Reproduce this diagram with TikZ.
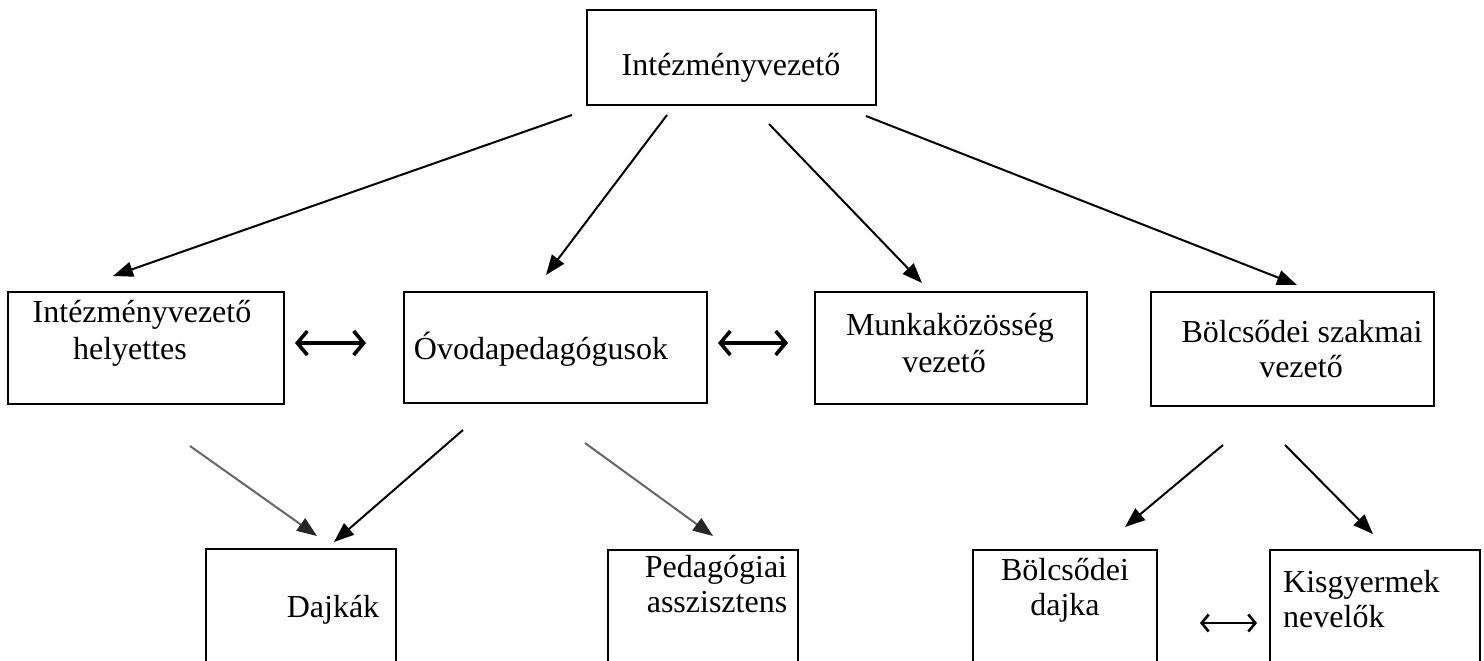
\documentclass[tikz,border=0pt]{standalone}
\usepackage{fontspec}
\setmainfont{Liberation Serif}
\usetikzlibrary{arrows.meta}
\tikzset{
  orgbox/.style={draw=black, line width=2.6pt, fill=none, inner sep=0pt},
  lbl/.style={inner sep=0pt, anchor=base, font=\fontsize{32}{36}\selectfont},
  lbll/.style={lbl, anchor=base west},
  arr/.style={line width=2pt, -{Triangle[length=20pt,width=15pt]}},
  garr/.style={line width=2pt, draw=black!60, -{Triangle[length=20pt,width=15pt,color=black!85,fill=black!85]}},
  dbl/.style={line width=3.6pt, {Straight Barb[length=10pt,width=24pt]}-{Straight Barb[length=10pt,width=24pt]}},
  dbls/.style={line width=2.6pt, {Straight Barb[length=7pt,width=17pt]}-{Straight Barb[length=7pt,width=17pt]}}
}
\begin{document}
\begin{tikzpicture}[x=1pt,y=-1pt]
\useasboundingbox (0,0) rectangle (1484,661);
\clip (0,0) rectangle (1484,661);
% boxes
\node[orgbox, minimum width=289pt, minimum height=95pt] (top) at (731.5,57.5) {};
\node[orgbox, minimum width=276pt, minimum height=112pt] (hely) at (146,348) {};
\node[orgbox, minimum width=303pt, minimum height=111pt] (ovo) at (555.5,347.5) {};
\node[orgbox, minimum width=272pt, minimum height=112pt] (munka) at (951,348) {};
\node[orgbox, minimum width=283pt, minimum height=114pt] (bszv) at (1292.5,349) {};
\node[orgbox, minimum width=190pt, minimum height=130pt] (dajk) at (301,614) {};
\node[orgbox, minimum width=190pt, minimum height=130pt] (ped) at (703,615) {};
\node[orgbox, minimum width=184pt, minimum height=130pt] (bdajka) at (1065,615) {};
\node[orgbox, minimum width=210pt, minimum height=130pt] (kisgy) at (1375,615) {};
% labels
\node[lbl] (ttop) at (731,76) {Intézményvezető};
\node[lbl] (thely1) at (142,322) {Intézményvezető};
\node[lbl] (thely2) at (130,359) {helyettes};
\node[lbl] (tovo) at (541,359) {Óvodapedagógusok};
\node[lbl] (tmun1) at (950,335) {Munkaközösség};
\node[lbl] (tmun2) at (944,372) {vezető};
\node[lbl] (tbsz1) at (1302,342) {Bölcsődei szakmai};
\node[lbl] (tbsz2) at (1301,377) {vezető};
\node[lbl] (tdajk) at (333,617) {Dajkák};
\node[lbl] (tped1) at (716,577) {Pedagógiai};
\node[lbl] (tped2) at (717,612) {asszisztens};
\node[lbl] (tbd1) at (1065,580) {Bölcsődei};
\node[lbl] (tbd2) at (1065,615) {dajka};
\node[lbll] (tkis1) at (1283,592) {Kisgyermek};
\node[lbll] (tkis2) at (1283,627) {nevelők};
% connector ends
\coordinate (a1s) at (572,115); \coordinate (a1e) at (113,276);
\coordinate (a2s) at (667,115); \coordinate (a2e) at (546,275);
\coordinate (a3s) at (769,124); \coordinate (a3e) at (922,283);
\coordinate (a4s) at (866,116); \coordinate (a4e) at (1297,285);
\coordinate (b1s) at (190,446); \coordinate (b1e) at (317,536);
\coordinate (b2s) at (463,430); \coordinate (b2e) at (334,542);
\coordinate (b3s) at (585,443); \coordinate (b3e) at (713,536);
\coordinate (c1s) at (1223,445); \coordinate (c1e) at (1125,527);
\coordinate (c2s) at (1285,445); \coordinate (c2e) at (1373,534);
\coordinate (d1s) at (295,343); \coordinate (d1e) at (366,343);
\coordinate (d2s) at (718,343); \coordinate (d2e) at (788,343);
\coordinate (d3s) at (1200,623); \coordinate (d3e) at (1257,623);
% connectors
\draw[arr] (a1s) -- (a1e);
\draw[arr] (a2s) -- (a2e);
\draw[arr] (a3s) -- (a3e);
\draw[arr] (a4s) -- (a4e);
\draw[garr] (b1s) -- (b1e);
\draw[arr] (b2s) -- (b2e);
\draw[garr] (b3s) -- (b3e);
\draw[arr] (c1s) -- (c1e);
\draw[arr] (c2s) -- (c2e);
\draw[dbl] (d1s) -- (d1e);
\draw[dbl] (d2s) -- (d2e);
\draw[dbls] (d3s) -- (d3e);
\end{tikzpicture}
\end{document}
